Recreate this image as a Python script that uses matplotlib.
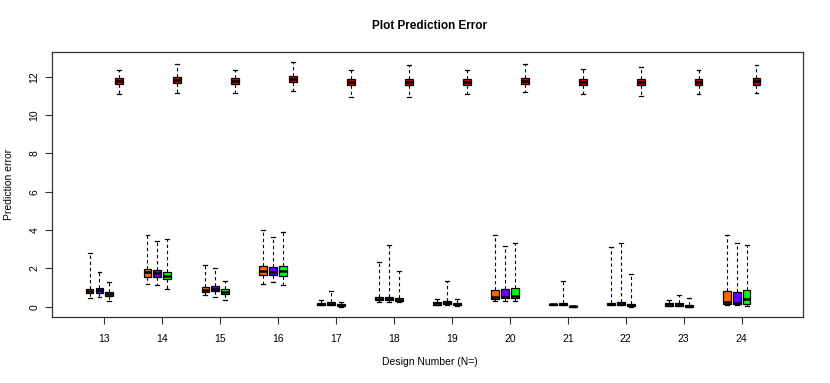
import numpy as np
import matplotlib
matplotlib.use("Agg")
import matplotlib.pyplot as plt

plt.rcParams['font.family'] = ['Liberation Sans', 'DejaVu Sans']

designs = [13, 14, 15, 16, 17, 18, 19, 20, 21, 22, 23, 24]
methods = ["orange", "purple", "green", "red"]
colors = ["#FF6600", "#6600FF", "#00FF00", "#CC0000"]

# per method: rows = designs
orange_whislo = [0.45, 1.18, 0.59, 1.18, 0.07, 0.26, 0.07, 0.30, 0.07, 0.07, 0.05, 0.09]
orange_q1     = [0.70, 1.57, 0.78, 1.65, 0.07, 0.33, 0.10, 0.42, 0.07, 0.07, 0.05, 0.16]
orange_med    = [0.80, 1.79, 0.89, 1.88, 0.14, 0.42, 0.18, 0.49, 0.12, 0.14, 0.13, 0.23]
orange_q3     = [0.91, 1.95, 1.01, 2.12, 0.19, 0.49, 0.25, 0.87, 0.16, 0.21, 0.18, 0.82]
orange_whishi = [2.79, 3.72, 2.18, 3.98, 0.35, 2.32, 0.42, 3.76, 0.16, 3.10, 0.33, 3.72]

purple_whislo = [0.49, 1.12, 0.51, 1.29, 0.07, 0.26, 0.07, 0.31, 0.07, 0.07, 0.05, 0.09]
purple_q1     = [0.73, 1.55, 0.80, 1.64, 0.09, 0.33, 0.14, 0.44, 0.07, 0.09, 0.05, 0.16]
purple_med    = [0.85, 1.74, 0.94, 1.83, 0.16, 0.42, 0.21, 0.52, 0.13, 0.16, 0.13, 0.21]
purple_q3     = [0.96, 1.91, 1.06, 2.09, 0.23, 0.51, 0.28, 0.92, 0.18, 0.24, 0.18, 0.77]
purple_whishi = [1.79, 3.41, 2.00, 3.62, 0.80, 3.22, 1.36, 3.18, 1.34, 3.31, 0.63, 3.31]

green_whislo = [0.31, 0.94, 0.35, 1.13, 0.00, 0.23, 0.04, 0.30, 0.00, 0.00, 0.00, 0.04]
green_q1     = [0.54, 1.44, 0.66, 1.60, 0.02, 0.30, 0.07, 0.45, 0.00, 0.02, 0.00, 0.13]
green_med    = [0.65, 1.62, 0.78, 1.86, 0.09, 0.37, 0.16, 0.56, 0.02, 0.09, 0.02, 0.39]
green_q3     = [0.75, 1.81, 0.91, 2.12, 0.16, 0.44, 0.21, 0.98, 0.05, 0.14, 0.07, 0.86]
green_whishi = [1.27, 3.52, 1.32, 3.91, 0.23, 1.85, 0.39, 3.31, 0.05, 1.71, 0.47, 3.24]

red_whislo = [11.10, 11.15, 11.15, 11.25, 10.95, 10.95, 11.10, 11.20, 11.10, 11.00, 11.10, 11.15]
red_q1     = [11.60, 11.69, 11.60, 11.75, 11.57, 11.57, 11.57, 11.62, 11.58, 11.57, 11.58, 11.58]
red_med    = [11.76, 11.84, 11.76, 11.90, 11.72, 11.72, 11.72, 11.78, 11.72, 11.72, 11.72, 11.76]
red_q3     = [11.91, 12.00, 11.91, 12.05, 11.88, 11.88, 11.88, 11.93, 11.88, 11.88, 11.88, 11.93]
red_whishi = [12.33, 12.64, 12.33, 12.78, 12.36, 12.60, 12.36, 12.66, 12.40, 12.52, 12.36, 12.59]

series = [
    (orange_whislo, orange_q1, orange_med, orange_q3, orange_whishi),
    (purple_whislo, purple_q1, purple_med, purple_q3, purple_whishi),
    (green_whislo, green_q1, green_med, green_q3, green_whishi),
    (red_whislo, red_q1, red_med, red_q3, red_whishi),
]

fig = plt.figure(figsize=(8.3, 3.83), dpi=100)
ax = fig.add_axes([52 / 830, 66 / 383, 751 / 830, 265 / 383])

step = 0.171
width = 0.135
for k, (lo, q1, med, q3, hi) in enumerate(series):
    stats = []
    for i in range(len(designs)):
        stats.append(dict(whislo=lo[i], q1=q1[i], med=med[i], q3=q3[i], whishi=hi[i]))
    pos = np.array(designs) + (k - 1.5) * step
    ax.bxp(stats, positions=pos, widths=width, patch_artist=True,
           showfliers=False, manage_ticks=False,
           boxprops=dict(facecolor=colors[k], edgecolor='black', linewidth=0.9),
           medianprops=dict(color='black', linewidth=1.8, solid_capstyle='butt'),
           whiskerprops=dict(color='black', linewidth=0.8, linestyle=(0, (3, 2.5))),
           capprops=dict(color='black', linewidth=0.9),
           capwidths=width * 0.5)

ax.set_xlim(12.095, 25.06)
ax.set_ylim(-0.54, 13.29)
ax.set_xticks(designs)
ax.set_xticklabels([str(d) for d in designs])
ax.set_yticks([0, 2, 4, 6, 8, 10, 12])
ax.set_yticklabels(['0', '2', '4', '6', '8', '10', '12'], rotation=90, va='center')
ax.tick_params(axis='both', labelsize=7.5, length=5, width=0.8, color='#333333')
ax.tick_params(axis='x', pad=7)
ax.tick_params(axis='y', pad=4)
for s in ax.spines.values():
    s.set_color('#333333')
    s.set_linewidth(0.9)

fig.text(0.518, 1 - 26 / 383, "Plot Prediction Error", ha='center', va='center',
         fontsize=8.5, fontweight='bold')
fig.text(0.518, 1 - 362 / 383, "Design Number (N=)", ha='center', va='center', fontsize=7.5)
fig.text(9 / 830, 1 - 184 / 383, "Prediction error", ha='center', va='center',
         rotation=90, fontsize=7.5)

fig.savefig("out.png", dpi=100)
